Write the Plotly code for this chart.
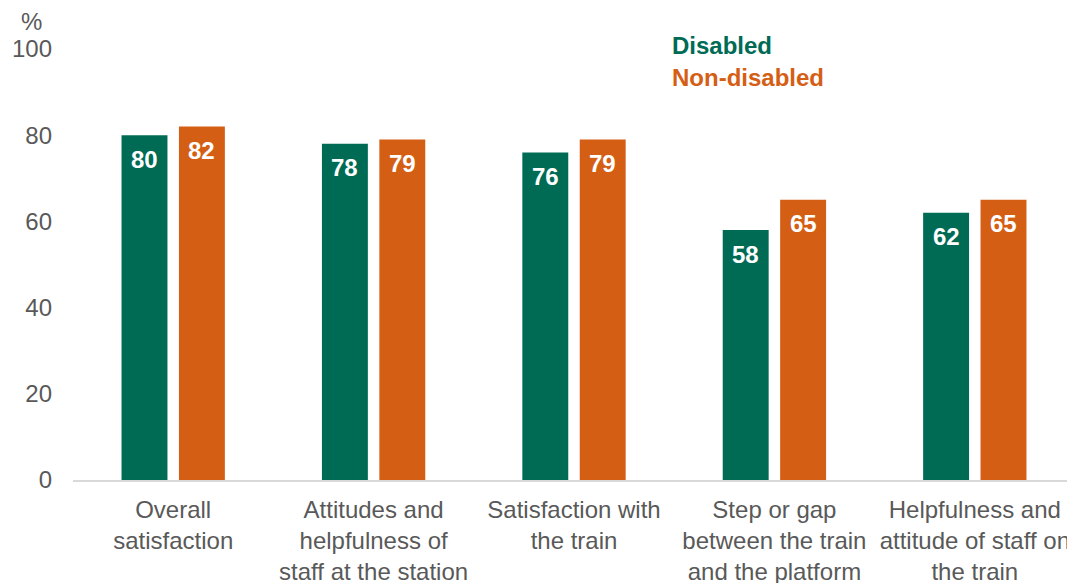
import plotly.graph_objects as go

categories = [
    "Overall<br>satisfaction",
    "Attitudes and<br>helpfulness of<br>staff at the station",
    "Satisfaction with<br>the train",
    "Step or gap<br>between the train<br>and the platform",
    "Helpfulness and<br>attitude of staff on<br>the train",
]
disabled = [80, 78, 76, 58, 62]
non_disabled = [82, 79, 79, 65, 65]
series_names = ["Disabled", "Non-disabled"]
y_ticks = [0, 20, 40, 60, 80, 100]

GREEN = "#006B54"
ORANGE = "#D55E15"
GREY = "#595959"
FONT = "Liberation Sans, Arial, sans-serif"

# the page body has an 8px margin, so the figure is drawn 8px in from the corner
W, H = 1067, 575
ML, MR, MT, MB = 65, 0, 41, 103
BARGAP, BARGROUPGAP = 0.427, 0.2

fig = go.Figure()
series = [(series_names[0], disabled, GREEN), (series_names[1], non_disabled, ORANGE)]
for name, vals, col in series:
    fig.add_trace(go.Bar(
        x=categories, y=vals, name=name, marker_color=col, marker_line_width=0,
    ))

# value labels inside the top of each bar
cat_px = (W - ML - MR) / len(categories)
offset_px = cat_px * (1 - BARGAP) / 4
for k, (name, vals, col) in enumerate(series):
    for c, v in zip(categories, vals):
        fig.add_annotation(
            x=c, y=v, xref="x", yref="y", text="<b>%d</b>" % v, showarrow=False,
            xshift=(-offset_px if k == 0 else offset_px), yshift=-24,
            xanchor="center", yanchor="middle",
            font=dict(size=24, color="white", family=FONT),
        )

fig.update_layout(
    width=W, height=H,
    margin=dict(l=ML, r=MR, t=MT, b=MB),
    barmode="group", bargap=BARGAP, bargroupgap=BARGROUPGAP,
    plot_bgcolor="white", paper_bgcolor="white",
    showlegend=False,
    font=dict(family=FONT, size=24, color=GREY),
)
fig.update_xaxes(
    showline=True, linecolor="#D9D9D9", linewidth=1.5, showgrid=False,
    tickfont=dict(size=24, color=GREY), ticks="", tickangle=0, automargin=False,
    ticklabelstandoff=7,
)
fig.update_yaxes(
    range=[0, 100], tickvals=y_ticks, showgrid=False, zeroline=False, showline=False,
    tickfont=dict(size=24, color=GREY), ticklabelstandoff=20, automargin=False,
)

fig.add_annotation(text="%", xref="paper", yref="paper", x=-0.041, y=1.063,
                   xanchor="center", yanchor="middle",
                   showarrow=False, font=dict(size=24, color=GREY, family=FONT))
fig.add_annotation(text="<b>" + series_names[0] + "</b>", xref="paper", yref="paper",
                   x=0.596, y=1.009, xanchor="left", yanchor="middle", showarrow=False,
                   font=dict(size=24, color=GREEN, family=FONT))
fig.add_annotation(text="<b>" + series_names[1] + "</b>", xref="paper", yref="paper",
                   x=0.596, y=0.935, xanchor="left", yanchor="middle", showarrow=False,
                   font=dict(size=24, color=ORANGE, family=FONT))

fig.write_html("out.html")
